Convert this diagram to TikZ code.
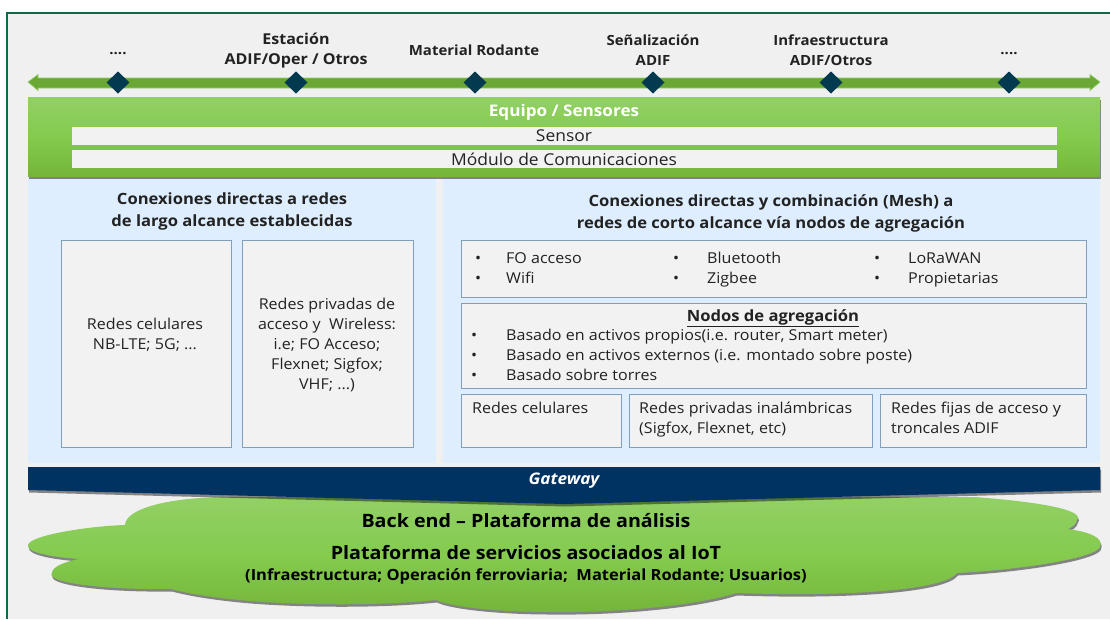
\documentclass[tikz,border=0pt]{standalone}
\usepackage{fontspec}
\setmainfont[FakeStretch=1.07]{Open Sans}
\usetikzlibrary{shadows,fadings}
\definecolor{pagebg}{HTML}{F0F0F0}
\definecolor{frameg}{HTML}{0B6B45}
\definecolor{panelb}{HTML}{DEEEFE}
\definecolor{boxline}{HTML}{7F9FC0}
\definecolor{boxfill}{HTML}{F2F2F2}
\definecolor{greent}{HTML}{92D065}
\definecolor{greenm}{HTML}{84CB4E}
\definecolor{greenb}{HTML}{74B53A}
\definecolor{darkd}{HTML}{043A4F}
\definecolor{navy}{HTML}{003262}
\definecolor{inkc}{HTML}{222222}
\tikzset{
  x=1pt,y=-1pt,
  softshadow/.style={drop shadow={shadow xshift=1pt,shadow yshift=-2.5pt,fill=black,opacity=.45}},
  greengrad/.style={top color=greent,bottom color=greenb,middle color=greenm},
  panelbox/.style={fill=panelb,draw=none},
  whitebox/.style={draw=boxline,fill=boxfill,line width=.8pt},
  bar/.style={fill=boxfill,draw=none},
  dia/.style={fill=darkd,draw=none},
  txt/.style={font=\fontsize{15}{20}\selectfont,text=inkc,align=center,inner sep=0pt},
  ltxt/.style={txt,anchor=west,align=left},
  btxt/.style={txt,anchor=base west,align=left},
  bltxt/.style={font=\fontsize{15}{20}\selectfont\bfseries,text=inkc,align=center,inner sep=0pt},
  bltxs/.style={bltxt,font=\fontsize{14}{20}\selectfont\bfseries},
  head/.style={font=\fontsize{15.5}{22}\selectfont\bfseries,text=inkc,align=center,inner sep=0pt},
  cloudt/.style={font=\fontsize{18.4}{22}\selectfont\bfseries,text=black,align=center,inner sep=0pt},
}
\begin{document}
\begin{tikzpicture}
\useasboundingbox (0,0) rectangle (1110,619);
\fill[white] (0,0) rectangle (1110,619);
\fill[pagebg] (7,13) rectangle (1110,619);
\draw[frameg,line width=1.5pt] (7,619) -- (7,13) -- (1110,13);
% axis arrow
\path[fill=greenb!92!black,draw=greent,line width=.6pt] (28,82) -- (38,74.5) -- (38,78) -- (1090,78) -- (1090,74.5) -- (1100,82) -- (1090,90.5) -- (1090,88) -- (38,88) -- (38,90.5) -- cycle;
\foreach \x in {118,296,475,653,831,1009}
  \path[dia] (\x-11.5,82.5) -- (\x,71.5) -- (\x+11.5,82.5) -- (\x,93.5) -- cycle;
% axis labels
\node[bltxs] (l1) at (118,54) {....};
\node[bltxt] (l2) at (296,51) {Estación\\ADIF/Oper / Otros};
\node[bltxs] (l3) at (474,50) {Material Rodante};
\node[bltxs] (l4) at (653,50) {Señalización\\ADIF};
\node[bltxs] (l5) at (831,50) {Infraestructura\\ADIF/Otros};
\node[bltxs] (l6) at (1009,54) {....};
% panels
\path[panelbox] (28,178) rectangle (436,463);
\path[panelbox] (443,178) rectangle (1100,463);
% green band
\path[greengrad,softshadow] (28,97) rectangle (1100,176);
\node[bltxt,text=white,font=\fontsize{16}{20}\selectfont\bfseries] (eq) at (564,112) {Equipo / Sensores};
\path[bar] (72,127) rectangle (1057,145);
\node[txt,font=\fontsize{16.3}{20}\selectfont] (sen) at (564,136) {Sensor};
\path[bar] (72,150) rectangle (1057,168);
\node[txt,font=\fontsize{16.3}{20}\selectfont] (mod) at (564,159) {Módulo de Comunicaciones};
% headings
\node[head] (h1) at (232,211) {Conexiones directas a redes\\de largo alcance establecidas};
\node[head] (h2) at (771,213) {Conexiones directas y combinación (Mesh) a\\redes de corto alcance vía nodos de agregación};
% left boxes
\path[whitebox] (61,240) rectangle (231,447);
\node[txt] (b1) at (145,335) {Redes celulares\\NB-LTE; 5G; ...};
\path[whitebox] (242,240) rectangle (413,447);
\node[txt,font=\fontsize{15}{20}\selectfont] (b2) at (327,345) {Redes privadas de\\acceso y\ \ Wireless:\\i.e; FO Acceso;\\Flexnet; Sigfox;\\VHF; ...)};
% right boxes
\path[whitebox] (461,240) rectangle (1086,297);
\foreach \x/\tx/\ta/\tb in {478/506/FO acceso/Wifi,676/707/Bluetooth/Zigbee,877/908/LoRaWAN/Propietarias}{
  \node[btxt] at (\x-3,263) {•};
  \node[btxt] at (\x-3,283) {•};
  \node[btxt] at (\tx,263) {\ta};
  \node[btxt] at (\tx,283) {\tb};
}
\path[whitebox] (461,303) rectangle (1086,388);
\node[head] (nod) at (773,318) {\underline{Nodos de agregación}};
\foreach \y in {340,360,380}
  \node[btxt] at (471,\y) {•};
\node[btxt] (n1) at (506,340) {Basado en activos propios(i.e. router, Smart meter)};
\node[btxt] (n2) at (506,360) {Basado en activos externos (i.e. montado sobre poste)};
\node[btxt] (n3) at (506,380) {Basado sobre torres};
\path[whitebox] (461,394) rectangle (621,447);
\node[btxt] (r1) at (472,413) {Redes celulares};
\path[whitebox] (629,394) rectangle (872,447);
\node[ltxt] (r2) at (639,420) {Redes privadas inalámbricas\\(Sigfox, Flexnet, etc)};
\path[whitebox] (880,394) rectangle (1086,447);
\node[ltxt] (r3) at (891,418) {Redes fijas de acceso y\\troncales ADIF};
% cloud
\path[greengrad,softshadow]
 (125,525) .. controls (126,508) and (170,498) .. (221,497)
 -- (975,497)
 .. controls (1040,502) and (1085,510) .. (1077,520)
 .. controls (1076,525) and (1072,527) .. (1068,529)
 .. controls (1090,532) and (1104,538) .. (1100,547)
 .. controls (1096,558) and (1020,570) .. (957,573)
 .. controls (945,590) and (850,597) .. (736,593)
 .. controls (700,605) and (620,613) .. (550,612)
 .. controls (500,612) and (450,607) .. (436,600)
 .. controls (380,606) and (300,605) .. (250,601)
 .. controls (215,598) and (190,594) .. (171,589)
 .. controls (100,590) and (45,582) .. (52,573)
 .. controls (52,566) and (68,561) .. (79,559)
 .. controls (50,557) and (26,552) .. (28,545)
 .. controls (30,535) and (90,526) .. (125,525) -- cycle;
% gateway
\path[fill=navy,softshadow] (28,467) -- (1100,467) -- (1100,490) -- (564,504) -- (28,490) -- cycle;
\node[bltxt,text=white,font=\fontsize{16}{18}\selectfont\bfseries\itshape] (gw) at (564,481) {Gateway};
\node[cloudt] (c1) at (526,521) {Back end – Plataforma de análisis};
\node[cloudt] (c2) at (526,553) {Plataforma de servicios asociados al IoT};
\node[cloudt,font=\fontsize{15.4}{20}\selectfont\bfseries] (c3) at (526,576) {(Infraestructura; Operación ferroviaria;\ \ Material Rodante; Usuarios)};
\end{tikzpicture}
\end{document}
